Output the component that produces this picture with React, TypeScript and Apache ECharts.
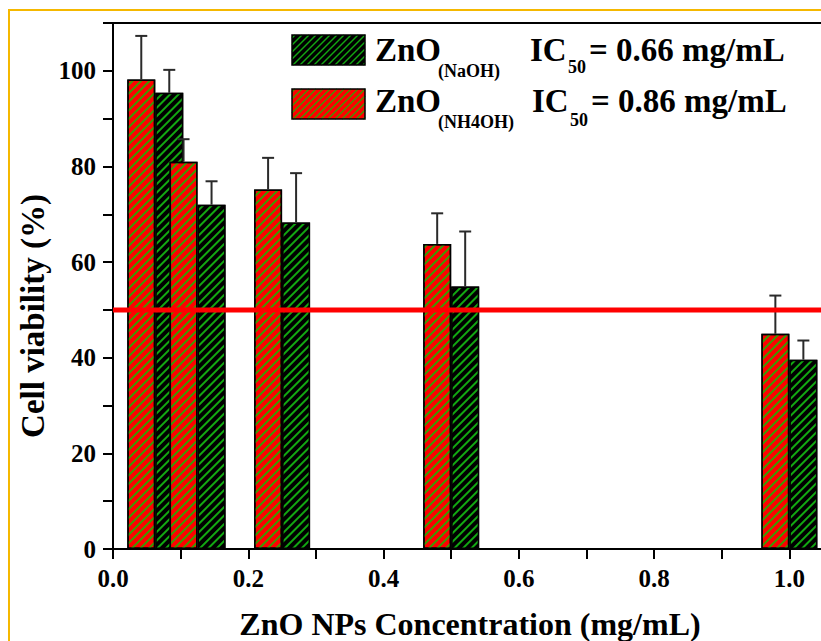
import React, { useEffect, useRef } from "react";
import * as echarts from "echarts";

const concentrations = [0.0625, 0.125, 0.25, 0.5, 1.0];
const nh4ohMean = [98.2, 81.0, 75.2, 63.8, 45.0];
const nh4ohErr = [9.1, 4.7, 6.6, 6.4, 8.0];
const naohMean = [95.4, 72.0, 68.3, 54.9, 39.6];
const naohErr = [4.8, 4.9, 10.3, 11.5, 4.0];
const ic50Threshold = 50;
const xRange = [0, 1.1];
const yRange = [0, 110];
const legendLabels = [
  { sub: "(NaOH)", ic50: "0.66" },
  { sub: "(NH4OH)", ic50: "0.86" },
];

const FONT = "Liberation Serif, Times New Roman, serif";
const RED = "#ff0000";
const BLACK = "#000000";
const HATCH_ON_RED = "#3c9a00";
const HATCH_ON_BLACK = "#12a812";
const BAR_W = 28;

function hatchLines(x0: number, y0: number, w: number, h: number, color: string) {
  const x1 = x0 + w;
  const y1 = y0 + h;
  const out: any[] = [];
  for (let k = x0 + y0 + 3; k < x1 + y1; k += 7) {
    const sx = Math.max(x0, k - y1);
    const ex = Math.min(x1, k - y0);
    if (ex <= sx) continue;
    out.push({
      type: "line",
      silent: true,
      shape: { x1: sx, y1: k - sx, x2: ex, y2: k - ex },
      style: { stroke: color, lineWidth: 1.5 },
      z: 101,
    });
  }
  return out;
}

function swatch(x: number, y: number, fill: string, hatch: string) {
  const w = 73;
  const h = 30;
  return [
    { type: "rect", shape: { x, y, width: w, height: h }, style: { fill }, z: 100 },
    ...hatchLines(x, y, w, h, hatch),
    {
      type: "rect",
      shape: { x, y, width: w, height: h },
      style: { fill: "none", stroke: "#000", lineWidth: 1.5 },
      z: 102,
    },
  ];
}

function txt(text: string, x: number, y: number, size: number, extra: any = {}) {
  return {
    type: "text",
    x,
    y,
    z: 105,
    style: {
      text,
      fill: "#000",
      fontSize: size,
      fontWeight: "bold",
      fontFamily: FONT,
      align: "left",
      verticalAlign: "middle",
      ...extra,
    },
  };
}

function errorSeries(mean: number[], err: number[], offset: number) {
  return {
    type: "custom",
    z: 6,
    data: concentrations.map((c, i) => [c, mean[i], err[i]]),
    encode: { x: 0, y: 1 },
    renderItem: (_params: any, api: any) => {
      const x = api.value(0);
      const v = api.value(1);
      const e = api.value(2);
      const base = api.coord([x, v]);
      const top = api.coord([x, v + e]);
      const cx = base[0] + offset;
      return {
        type: "group",
        children: [
          {
            type: "line",
            shape: { x1: cx, y1: base[1], x2: cx, y2: top[1] },
            style: { stroke: "#2a2a2a", lineWidth: 2 },
          },
          {
            type: "line",
            shape: { x1: cx - 6, y1: top[1], x2: cx + 6, y2: top[1] },
            style: { stroke: "#2a2a2a", lineWidth: 2 },
          },
        ],
      };
    },
  };
}

export default function App() {
  const ref = useRef<HTMLDivElement>(null);
  useEffect(() => {
    if (!ref.current) return;
    const chart = echarts.init(ref.current, null, { renderer: "svg" });
    const axisLabelStyle = {
      color: "#000",
      fontFamily: FONT,
      fontWeight: "bold" as const,
      fontSize: 25,
    };
    chart.setOption({
      animation: false,
      backgroundColor: "#fff",
      grid: {
        left: 113,
        top: 23,
        right: 1,
        bottom: 92,
        show: true,
        borderColor: "#000",
        borderWidth: 2,
        backgroundColor: "transparent",
      },
      xAxis: {
        type: "value",
        min: xRange[0],
        max: xRange[1],
        interval: 0.1,
        axisLine: { show: true, onZero: false, lineStyle: { color: "#000", width: 2 } },
        axisTick: { show: true, inside: false, length: 10, lineStyle: { color: "#000", width: 2 } },
        splitLine: { show: false },
        axisLabel: {
          ...axisLabelStyle,
          margin: 17,
          formatter: (v: number) => {
            const t = Math.round(v * 10);
            return t % 2 === 0 && t <= 10 ? (t / 10).toFixed(1) : "";
          },
        },
      },
      yAxis: {
        type: "value",
        min: yRange[0],
        max: yRange[1],
        interval: 10,
        axisLine: { show: true, onZero: false, lineStyle: { color: "#000", width: 2 } },
        axisTick: { show: true, inside: false, length: 10, lineStyle: { color: "#000", width: 2 } },
        splitLine: { show: false },
        axisLabel: {
          ...axisLabelStyle,
          margin: 17,
          formatter: (v: number) => (v % 20 === 0 && v <= 100 ? String(v) : ""),
        },
      },
      series: [
        {
          name: "ZnO(NH4OH)",
          type: "bar",
          z: 4,
          barWidth: BAR_W,
          barGap: "0%",
          data: concentrations.map((c, i) => [c, nh4ohMean[i]]),
          itemStyle: {
            color: RED,
            borderColor: "#000",
            borderWidth: 1.5,
            decal: {
              symbol: "rect",
              symbolSize: 1,
              dashArrayX: [1, 0],
              dashArrayY: [1.6, 3.4],
              rotation: -Math.PI / 4,
              color: HATCH_ON_RED,
            },
          },
        },
        {
          name: "ZnO(NaOH)",
          type: "bar",
          z: 3,
          barWidth: BAR_W,
          barGap: "0%",
          data: concentrations.map((c, i) => [c, naohMean[i]]),
          itemStyle: {
            color: BLACK,
            borderColor: "#000",
            borderWidth: 1.5,
            decal: {
              symbol: "rect",
              symbolSize: 1,
              dashArrayX: [1, 0],
              dashArrayY: [1.6, 3.4],
              rotation: -Math.PI / 4,
              color: HATCH_ON_BLACK,
            },
          },
        },
        errorSeries(nh4ohMean, nh4ohErr, -BAR_W / 2),
        errorSeries(naohMean, naohErr, BAR_W / 2),
        {
          type: "line",
          z: 8,
          symbol: "none",
          silent: true,
          data: [
            [xRange[0], ic50Threshold],
            [xRange[1], ic50Threshold],
          ],
          lineStyle: { color: RED, width: 5 },
        },
      ],
      graphic: [
        {
          type: "rect",
          shape: { x: 9, y: 10, width: 900, height: 700 },
          style: { fill: "none", stroke: "#f5b800", lineWidth: 2 },
          z: 110,
        },
        ...swatch(292, 35, BLACK, HATCH_ON_BLACK),
        ...swatch(292, 89, RED, HATCH_ON_RED),
        txt("ZnO", 375, 50, 33),
        txt(legendLabels[0].sub, 438, 71, 18),
        txt("IC", 530, 50, 33),
        txt("50", 568, 67, 18),
        txt("= " + legendLabels[0].ic50 + " mg/mL", 589, 50, 33),
        txt("ZnO", 375, 101, 33),
        txt(legendLabels[1].sub, 438, 122, 18),
        txt("IC", 532, 101, 33),
        txt("50", 570, 120, 18),
        txt("= " + legendLabels[1].ic50 + " mg/mL", 591, 101, 33),
        txt("ZnO NPs Concentration (mg/mL)", 470, 624, 32, { align: "center" }),
        {
          type: "text",
          x: 33,
          y: 316,
          rotation: Math.PI / 2,
          z: 105,
          style: {
            text: "Cell viability (%)",
            fill: "#000",
            fontSize: 33,
            fontWeight: "bold",
            fontFamily: FONT,
            align: "center",
            verticalAlign: "middle",
          },
        },
      ],
    });
    return () => chart.dispose();
  }, []);
  return (
    <div
      style={{
        position: "fixed",
        left: 0,
        top: 0,
        width: 821,
        height: 641,
        overflow: "hidden",
        background: "#fff",
      }}
    >
      <div ref={ref} style={{ width: 860, height: 641 }} />
    </div>
  );
}
